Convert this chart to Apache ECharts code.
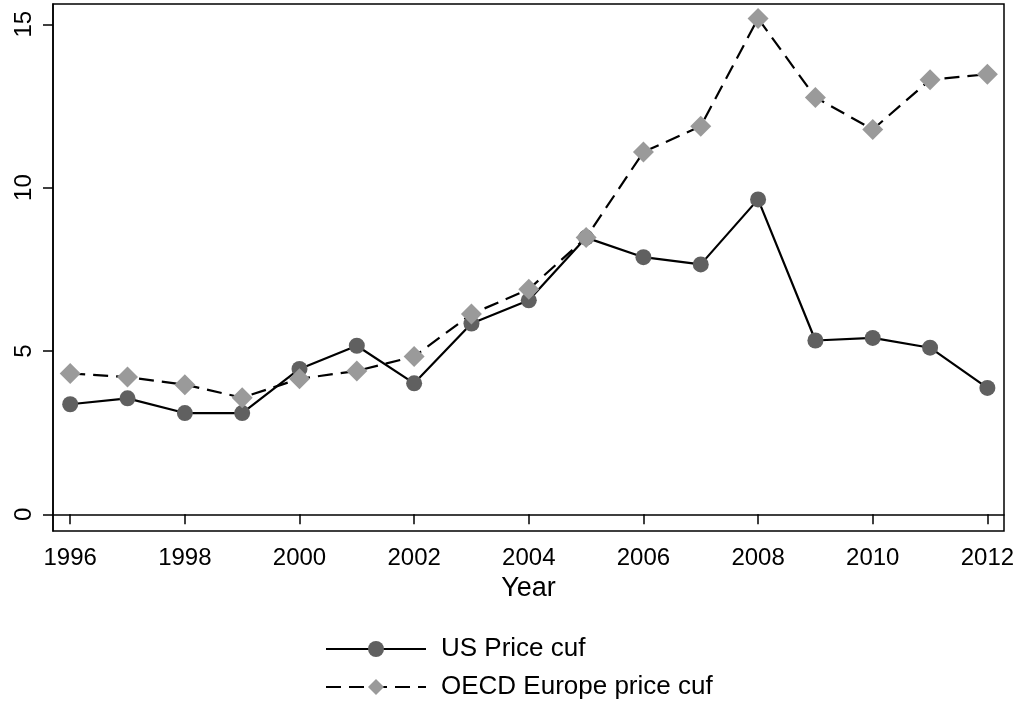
<!DOCTYPE html>
<html>
<head>
<meta charset="utf-8">
<title>US vs OECD Europe price</title>
<script src="https://cdn.jsdelivr.net/npm/echarts@6/dist/echarts.min.js"></script>
<style>
  html, body { margin: 0; padding: 0; background: #fff; }
  #chart { width: 1025px; height: 706px; }
</style>
</head>
<body>
<div id="chart"></div>
<script>
// data
const years = [1996, 1997, 1998, 1999, 2000, 2001, 2002, 2003, 2004, 2005, 2006, 2007, 2008, 2009, 2010, 2011, 2012];
const usPrice = [3.37, 3.55, 3.10, 3.10, 4.45, 5.16, 4.01, 5.84, 6.55, 8.47, 7.87, 7.65, 9.64, 5.32, 5.40, 5.10, 3.87];
const oecdPrice = [4.31, 4.20, 3.97, 3.57, 4.15, 4.39, 4.83, 6.13, 6.89, 8.47, 11.09, 11.88, 15.18, 12.76, 11.78, 13.30, 13.47];
const xTicks = [1996, 1998, 2000, 2002, 2004, 2006, 2008, 2010, 2012];
const yTicks = [0, 5, 10, 15];

const FONT = '"Liberation Sans", Arial, Helvetica, sans-serif';

const pairs = (vals) => years.map((y, i) => [y, vals[i]]);

const chart = echarts.init(document.getElementById('chart'));

const option = {
  animation: false,
  backgroundColor: '#fff',
  textStyle: { fontFamily: FONT, color: '#000' },
  grid: {
    left: 53,
    right: 21,
    top: 4,
    bottom: 175,
    show: true,
    borderColor: '#000',
    borderWidth: 1.5,
    backgroundColor: '#fff'
  },
  legend: {
    orient: 'vertical',
    left: 325,
    top: 636,
    padding: 0,
    itemWidth: 100,
    itemHeight: 20,
    itemGap: 12,
    textStyle: { fontFamily: FONT, fontSize: 26, color: '#000', padding: [0, 0, 0, 10] },
    data: ['US Price cuf', 'OECD Europe price cuf']
  },
  xAxis: {
    type: 'value',
    min: 1995.7,
    max: 2012.29,
    name: 'Year',
    nameLocation: 'middle',
    nameGap: 39,
    nameTextStyle: { fontFamily: FONT, fontSize: 27, color: '#000' },
    axisLine: { show: true, lineStyle: { color: '#000', width: 1.5 } },
    axisTick: { show: true, length: 10, customValues: xTicks, lineStyle: { color: '#000', width: 1.5 } },
    axisLabel: {
      customValues: xTicks,
      fontSize: 24,
      color: '#000',
      margin: 15,
      fontFamily: FONT,
      formatter: (v) => String(v)
    },
    splitLine: { show: false }
  },
  yAxis: {
    type: 'value',
    min: -0.51,
    max: 15.62,
    axisLine: { show: true, lineStyle: { color: '#000', width: 1.5 } },
    axisTick: { show: true, length: 10, customValues: yTicks, lineStyle: { color: '#000', width: 1.5 } },
    axisLabel: { customValues: yTicks, fontSize: 24, color: '#000', rotate: 90, margin: 17, fontFamily: FONT },
    splitLine: { show: false }
  },
  series: [
    {
      name: 'US Price cuf',
      type: 'line',
      data: pairs(usPrice),
      symbol: 'circle',
      symbolSize: 16,
      itemStyle: { color: '#606060' },
      lineStyle: { color: '#000', width: 2.2 }
    },
    {
      name: 'OECD Europe price cuf',
      type: 'line',
      data: pairs(oecdPrice),
      symbol: 'diamond',
      symbolSize: 21,
      itemStyle: { color: '#9a9a9a' },
      lineStyle: { color: '#000', width: 2.2, type: [15, 8] }
    }
  ]
};

chart.setOption(option);
</script>
</body>
</html>
